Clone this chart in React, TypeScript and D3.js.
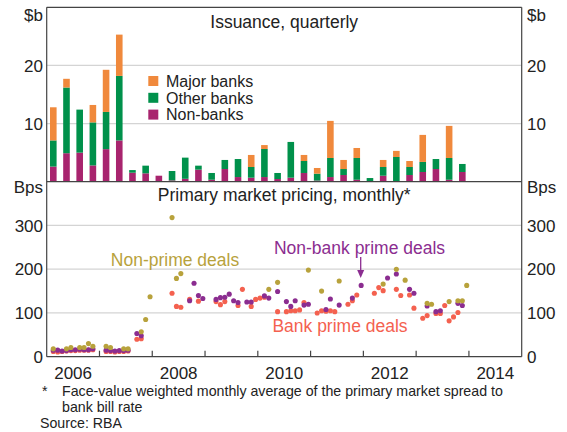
import React from "react";
import * as d3 from "d3";

// ---------- Data ----------
const quarters = [
  "2006Q1","2006Q2","2006Q3","2006Q4","2007Q1","2007Q2","2007Q3","2007Q4",
  "2008Q1","2008Q2","2008Q3","2008Q4","2009Q1","2009Q2","2009Q3","2009Q4",
  "2010Q1","2010Q2","2010Q3","2010Q4","2011Q1","2011Q2","2011Q3","2011Q4",
  "2012Q1","2012Q2","2012Q3","2012Q4","2013Q1","2013Q2","2013Q3","2013Q4",
];
const nonBanks = [2.6,4.9,5.0,2.8,5.6,7.1,1.55,1.44,1.03,0.23,0.5,2.07,0.34,2.18,0.8,0.69,0.8,0.46,0.69,1.5,0.2,0.8,1.15,0.34,0,1.03,0.1,1.15,1.67,2.18,0.34,1.67];
const otherBanks = [4.5,11.3,7.4,7.4,6.4,11.1,0.45,1.32,0,1.61,3.64,0.69,1.16,1.56,3.1,1.84,4.83,1.04,6.15,2.06,1.18,3.28,1.03,3.74,0.63,1.5,4.15,1.38,1.73,1.72,3.74,1.38];
const majorBanks = [5.7,1.5,0,3.0,7.25,7.1,0,0,0,0,0,0,0,0,0,2.07,0.67,0,0,1.04,0.98,6.38,1.56,1.72,0,1.21,1.05,1.03,4.65,0,5.52,0];

const nonPrime: [string, number][] = [
  ["2006-02",18],["2006-05",18],["2006-06",21],["2006-08",21],["2006-09",21],["2006-10",30],["2006-11",24],
  ["2007-02",24],["2007-03",21],["2007-06",18],["2007-07",18],["2007-10",57],["2007-11",85],["2007-12",137],
  ["2008-05",318],["2008-06",179],["2008-07",190],["2010-03",154],["2010-05",170],["2010-12",198],
  ["2011-03",150],["2011-07",173],["2012-05",166],["2012-08",200],["2012-10",175],["2013-03",122],
  ["2013-04",120],["2013-08",126],["2013-10",128],["2013-11",128],["2013-12",163],
];
const nonBankPrime: [string, number][] = [
  ["2006-02",15],["2006-03",15],["2006-04",13],["2006-05",14],["2006-06",16],["2006-07",16],["2006-08",17],
  ["2006-09",16],["2006-10",16],["2006-11",18],["2007-02",15],["2007-03",14],["2007-04",13],["2007-05",14],
  ["2007-06",14],["2007-07",15],["2007-09",53],["2007-10",48],["2008-09",128],["2008-10",168],["2008-11",140],
  ["2008-12",133],["2009-03",131],["2009-04",135],["2009-05",136],["2009-06",143],["2009-07",128],["2009-08",124],
  ["2009-10",125],["2009-11",125],["2010-02",139],["2010-03",134],["2010-05",149],["2010-07",126],["2010-08",115],
  ["2010-09",128],["2010-11",118],["2010-12",120],["2011-04",108],["2011-05",132],["2011-07",118],["2011-10",134],
  ["2011-12",163],["2012-06",180],["2012-08",189],["2012-11",154],["2012-12",145],["2013-03",116],["2013-05",103],
  ["2013-06",105],["2013-10",122],["2013-11",117],
];
const bankPrime: [string, number][] = [
  ["2006-02",12],["2006-03",11],["2006-04",12],["2006-05",13],["2006-06",14],["2006-07",14],["2006-08",15],
  ["2006-09",15],["2006-10",15],["2006-11",16],["2007-02",12],["2007-03",12],["2007-04",11],["2007-05",12],
  ["2007-06",12],["2007-07",13],["2007-09",40],["2007-10",41],["2008-05",145],["2008-06",115],["2008-07",113],
  ["2008-09",131],["2008-11",127],["2009-03",126],["2009-04",119],["2009-05",126],["2009-08",117],["2009-09",154],
  ["2009-11",115],["2009-12",131],["2010-01",134],["2010-02",136],["2010-05",103],["2010-07",103],["2010-08",105],
  ["2010-09",105],["2010-10",107],["2010-11",124],["2011-02",100],["2011-03",105],["2011-04",104],["2011-05",105],
  ["2011-06",103],["2011-09",120],["2011-10",128],["2011-11",141],["2012-03",145],["2012-04",158],["2012-05",151],
  ["2012-08",154],["2012-09",140],["2012-11",141],["2012-12",111],["2013-02",88],["2013-03",94],["2013-05",99],
  ["2013-06",99],["2013-07",117],["2013-08",82],["2013-09",91],["2013-10",101],
];

const yearLabels = ["2006", "2008", "2010", "2012", "2014"];
const yearTicks = [2007, 2008, 2009, 2010, 2011, 2012, 2013, 2014];
const issuanceTicks = [10, 20];
const pricingTicks = [0, 100, 200, 300];

const seriesKeys = ["nonBanks", "otherBanks", "majorBanks"];
const legendLabels = ["Major banks", "Other banks", "Non-banks"];

// ---------- Styling ----------
const C_MAJOR = "#F0893C";
const C_OTHER = "#00914B";
const C_NONBANK = "#A8246E";
const C_NONPRIME = "#B8A23C";
const C_NBPRIME = "#8B2D90";
const C_BPRIME = "#F4614F";
const FONT = "'Liberation Sans', Arial, Helvetica, sans-serif";

const W = 567, H = 432;
const X0 = 46.7, X1 = 521.7;
const TOP0 = 7.3, MID = 181.7, BOT = 356.7;

export default function App() {
  const x = d3.scaleLinear().domain([2006, 2015]).range([X0, X1]);
  const yTop = d3.scaleLinear().domain([0, 30]).range([MID, TOP0]);
  const yBot = d3.scaleLinear().domain([0, 400]).range([BOT, MID]);

  const qx = (q: string) => +q.slice(0, 4) + (+q.slice(5) - 0.5) / 4;
  const mx = (m: string) => +m.slice(0, 4) + (+m.slice(5) - 0.5) / 12;

  const rows = quarters.map((q, i) => ({
    q,
    nonBanks: nonBanks[i],
    otherBanks: otherBanks[i],
    majorBanks: majorBanks[i],
  }));
  const stacked = d3.stack<any>().keys(seriesKeys)(rows);
  const colors: Record<string, string> = {
    nonBanks: C_NONBANK,
    otherBanks: C_OTHER,
    majorBanks: C_MAJOR,
  };
  const qWidth = x(2006.25) - x(2006);
  const barW = qWidth * 0.5;

  const dots = (data: [string, number][], color: string, key: string) =>
    data.map(([m, v], i) => (
      <circle key={key + i} cx={x(mx(m))} cy={yBot(v)} r={2.55} fill={color} />
    ));

  const legendColors = [C_MAJOR, C_OTHER, C_NONBANK];

  return (
    <svg
      width={W}
      height={H}
      style={{ position: "absolute", left: 0, top: 0, background: "#fff" }}
      fontFamily={FONT}
    >
      <rect x={0} y={0} width={W} height={H} fill="#fff" />
      {/* gridlines */}
      {issuanceTicks.map((t) => (
        <line key={"gt" + t} x1={X0} x2={X1} y1={yTop(t)} y2={yTop(t)} stroke="#d4d4d4" strokeWidth={1.3} />
      ))}
      {pricingTicks.filter((t) => t > 0).map((t) => (
        <line key={"gb" + t} x1={X0} x2={X1} y1={yBot(t)} y2={yBot(t)} stroke="#d4d4d4" strokeWidth={1.3} />
      ))}

      {/* bars */}
      {stacked.map((s) =>
        s.map((d, i) =>
          d[1] - d[0] > 0 ? (
            <rect
              key={s.key + i}
              x={x(qx(quarters[i])) - barW / 2}
              width={barW}
              y={yTop(d[1])}
              height={yTop(d[0]) - yTop(d[1])}
              fill={colors[s.key]}
            />
          ) : null
        )
      )}

      {/* dots */}
      {dots(bankPrime, C_BPRIME, "bp")}
      {dots(nonBankPrime, C_NBPRIME, "nbp")}
      {dots(nonPrime, C_NONPRIME, "np")}

      {/* frame */}
      <line x1={X0} x2={X1} y1={TOP0} y2={TOP0} stroke="#444" strokeWidth={1.2} />
      <line x1={X0} x2={X1} y1={MID} y2={MID} stroke="#444" strokeWidth={1.2} />
      <line x1={X0} x2={X1} y1={BOT} y2={BOT} stroke="#444" strokeWidth={1.2} />
      <line x1={X0} x2={X0} y1={TOP0} y2={BOT} stroke="#444" strokeWidth={1.2} />
      <line x1={X1} x2={X1} y1={TOP0} y2={BOT} stroke="#444" strokeWidth={1.2} />
      {yearTicks.map((t) => (
        <line key={"xt" + t} x1={x(t)} x2={x(t)} y1={BOT} y2={BOT - 6} stroke="#444" strokeWidth={1.2} />
      ))}

      {/* axis labels */}
      <g fontSize={17} fill="#222">
        {issuanceTicks.map((t) => (
          <g key={"it" + t}>
            <text x={43} y={yTop(t)} dy="0.36em" textAnchor="end">{t}</text>
            <text x={527} y={yTop(t)} dy="0.36em" textAnchor="start">{t}</text>
          </g>
        ))}
        {pricingTicks.map((t) => (
          <g key={"pt" + t}>
            <text x={43} y={yBot(t)} dy="0.36em" textAnchor="end">{t}</text>
            <text x={527} y={yBot(t)} dy="0.36em" textAnchor="start">{t}</text>
          </g>
        ))}
        <text x={43} y={15} dy="0.36em" textAnchor="end">$b</text>
        <text x={527} y={15} dy="0.36em" textAnchor="start">$b</text>
        <text x={43} y={187} dy="0.36em" textAnchor="end">Bps</text>
        <text x={527} y={187} dy="0.36em" textAnchor="start">Bps</text>
        {yearLabels.map((l) => (
          <text key={"yl" + l} x={x(+l + 0.5)} y={373} dy="0.36em" textAnchor="middle">{l}</text>
        ))}
      </g>

      {/* titles */}
      <g fontSize={17.5} fill="#222" textAnchor="middle">
        <text x={(X0 + X1) / 2} y={27.5}>Issuance, quarterly</text>
        <text x={(X0 + X1) / 2} y={201}>Primary market pricing, monthly*</text>
      </g>

      {/* legend */}
      <g fontSize={16} fill="#222">
        {legendLabels.map((l, i) => (
          <g key={l}>
            <rect x={148.3} y={76 + i * 16.8} width={10} height={10} fill={legendColors[i]} />
            <text x={166} y={81 + i * 16.8} dy="0.36em">{l}</text>
          </g>
        ))}
      </g>

      {/* series labels */}
      <g fontSize={17.5}>
        <text x={175} y={266} textAnchor="middle" fill={C_NONPRIME}>Non-prime deals</text>
        <text x={359.5} y={254} textAnchor="middle" fill={C_NBPRIME}>Non-bank prime deals</text>
        <text x={340} y={332} textAnchor="middle" fill={C_BPRIME}>Bank prime deals</text>
      </g>
      <line x1={360.7} x2={360.7} y1={257} y2={272} stroke={C_NBPRIME} strokeWidth={1.3} />
      <path d="M357.2,270 L364.2,270 L360.7,278 Z" fill={C_NBPRIME} />

      {/* footnotes */}
      <g fontSize={14.2} fill="#222">
        <text x={42} y={396}>*</text>
        <text x={62} y={396}>Face-value weighted monthly average of the primary market spread to</text>
        <text x={62} y={412}>bank bill rate</text>
        <text x={40} y={428}>Source: RBA</text>
      </g>
    </svg>
  );
}
